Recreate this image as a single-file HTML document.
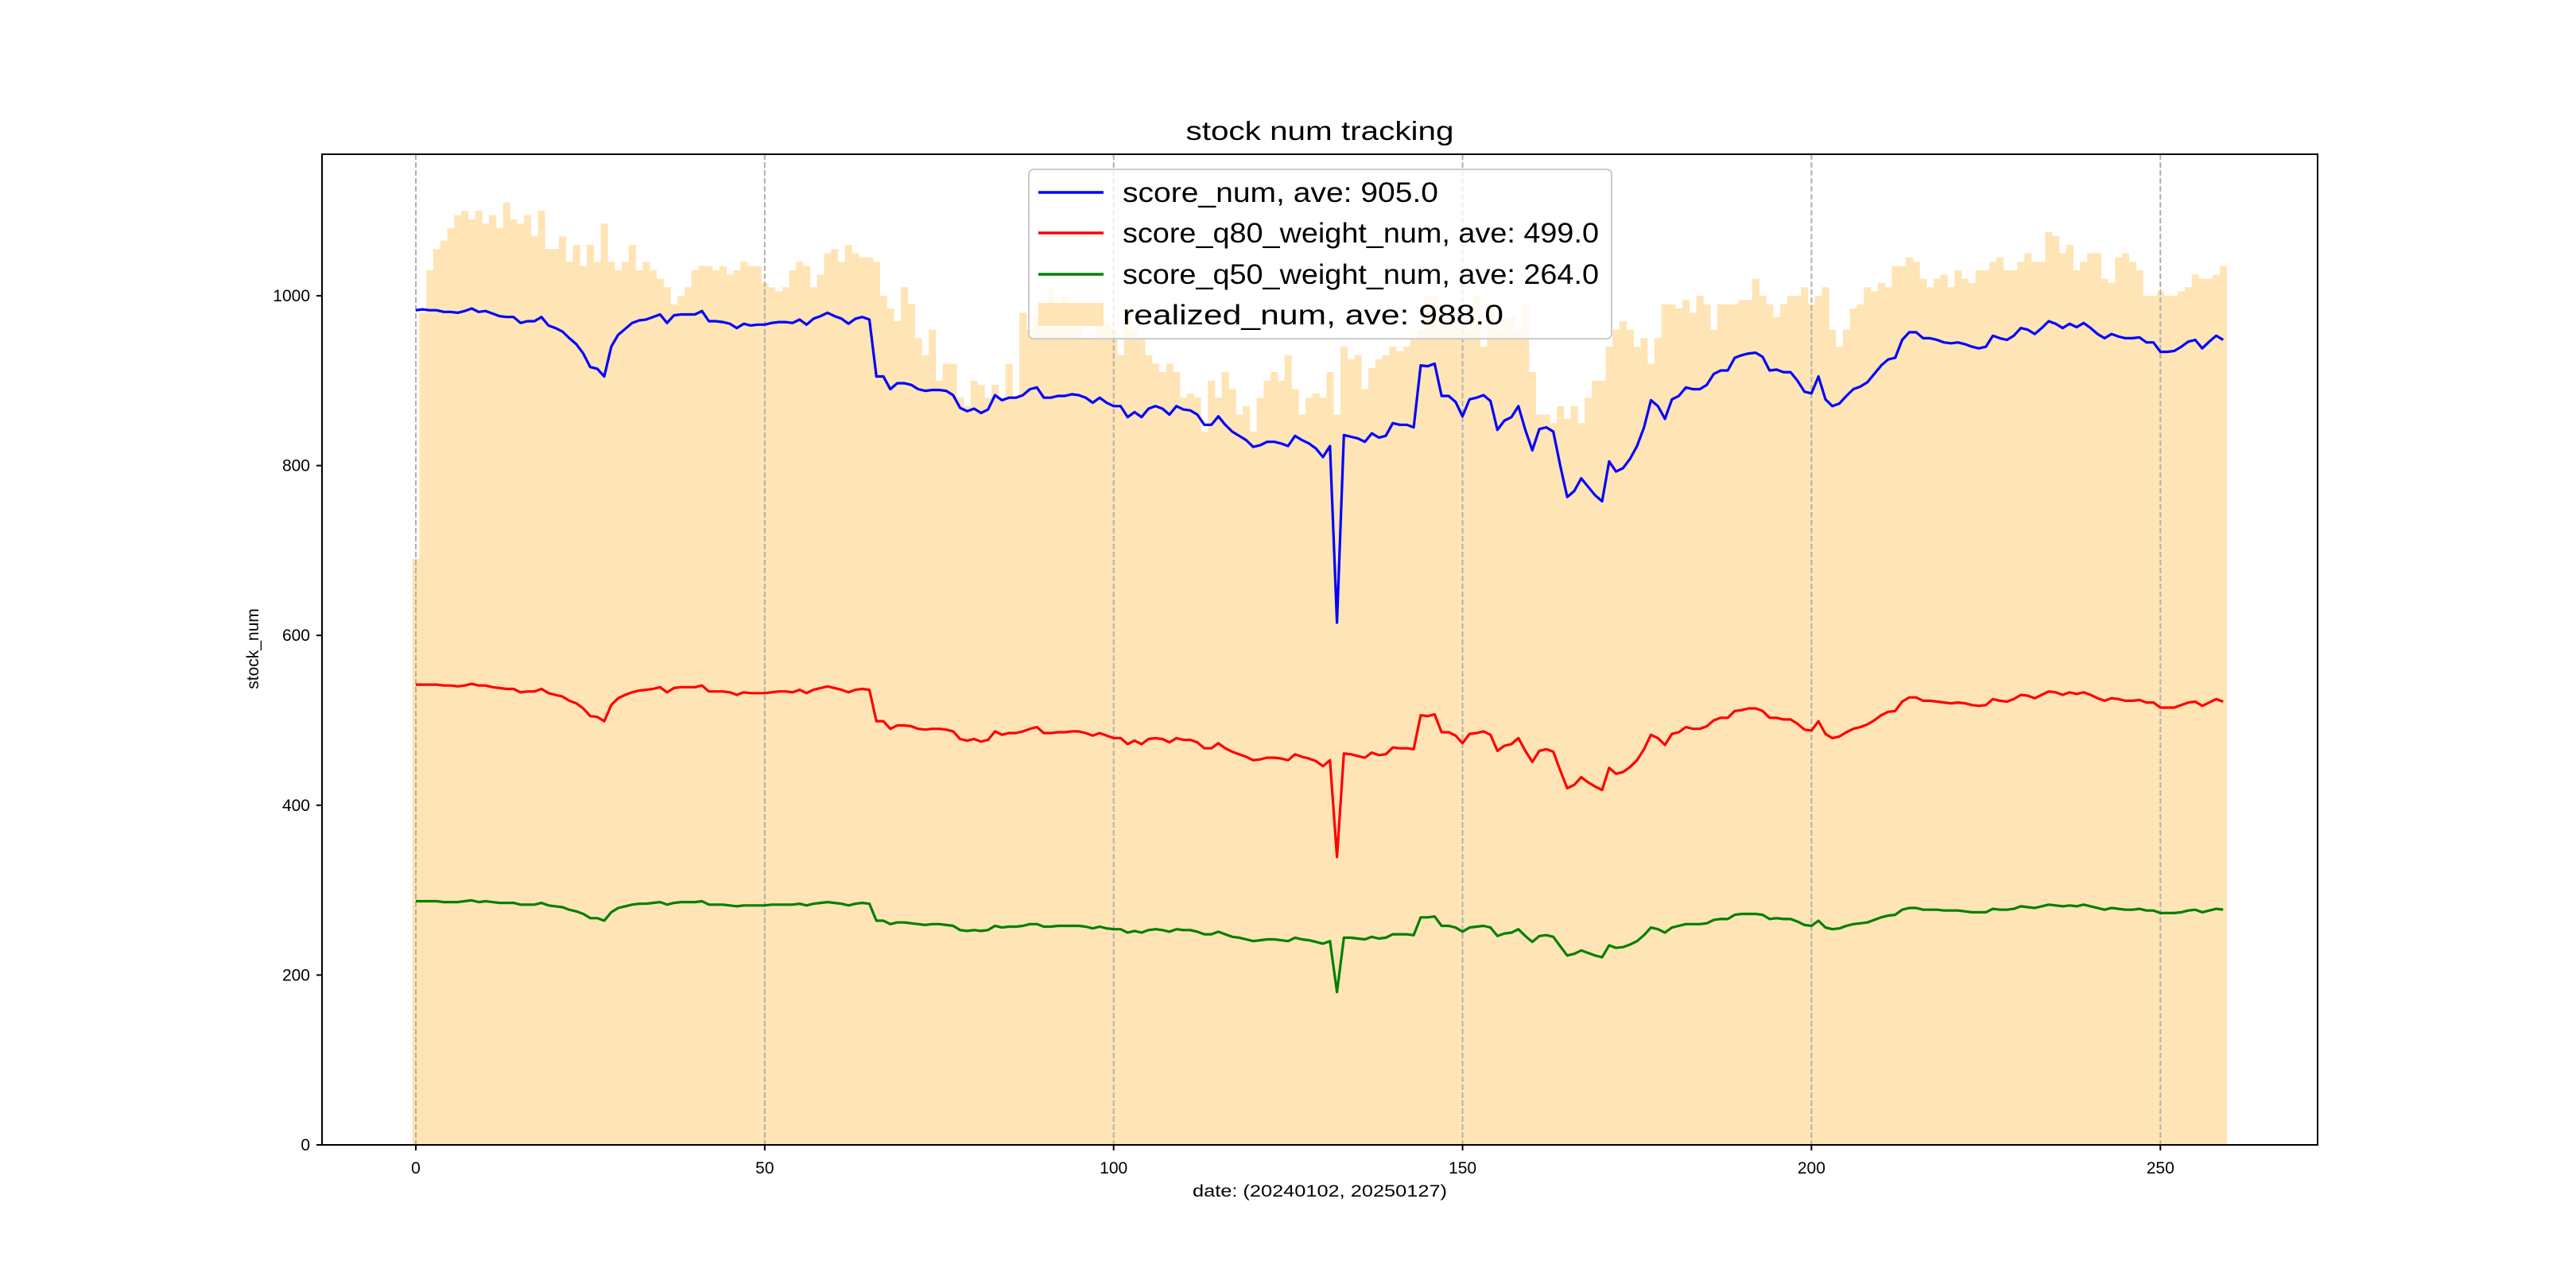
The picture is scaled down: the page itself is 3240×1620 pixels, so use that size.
<!DOCTYPE html>
<html><head><meta charset="utf-8"><style>
html,body{margin:0;padding:0;background:#fff;}
svg{display:block;font-family:"Liberation Sans","Noto Sans CJK SC",sans-serif;}
</style></head><body>
<svg id="chart" width="3240" height="1620" viewBox="0 0 3240 1620">
<rect x="0" y="0" width="3240" height="1620" fill="#fff"/>
<text x="1660" y="176" text-anchor="middle" font-size="33" textLength="337" lengthAdjust="spacingAndGlyphs">stock num tracking</text>
<g id="bars"></g>
<g id="grid"></g>
<g id="lines"></g>
<rect x="405" y="194" width="2510" height="1246" fill="none" stroke="#000" stroke-width="2"/>
<g id="xticks"></g>
<g id="yticks"></g>
<text x="1660" y="1505" text-anchor="middle" font-size="21" textLength="320" lengthAdjust="spacingAndGlyphs">date: (20240102, 20250127)</text>
<text transform="translate(325,816) rotate(-90)" text-anchor="middle" font-size="21">stock_num</text>
<g>
<rect x="1294" y="213" width="733" height="213" rx="6" fill="#fff" fill-opacity="0.8" stroke="#ccc" stroke-width="2"/>
<line x1="1306" y1="242" x2="1388" y2="242" stroke="#0000ff" stroke-width="3.5"/>
<text x="1412" y="254" font-size="35" textLength="397" lengthAdjust="spacingAndGlyphs">score_num, ave: 905.0</text>
<line x1="1306" y1="293" x2="1388" y2="293" stroke="#ff0000" stroke-width="3.5"/>
<text x="1412" y="305" font-size="35" textLength="599" lengthAdjust="spacingAndGlyphs">score_q80_weight_num, ave: 499.0</text>
<line x1="1306" y1="345" x2="1388" y2="345" stroke="#008000" stroke-width="3.5"/>
<text x="1412" y="357" font-size="35" textLength="599" lengthAdjust="spacingAndGlyphs">score_q50_weight_num, ave: 264.0</text>
<rect x="1306" y="381" width="82" height="29" fill="#ffe4b5"/>
<text x="1412" y="408" font-size="35" textLength="479" lengthAdjust="spacingAndGlyphs">realized_num, ave: 988.0</text>
</g>
</svg>
<script>
const realized=[690,980,1030,1055,1065,1080,1095,1100,1090,1100,1085,1095,1080,1110,1090,1085,1095,1070,1100,1055,1055,1070,1040,1060,1035,1060,1040,1085,1040,1030,1040,1060,1030,1040,1030,1020,1010,990,1000,1010,1030,1035,1035,1030,1035,1025,1030,1040,1035,1035,1015,1010,1005,1010,1030,1040,1035,1010,1025,1050,1055,1040,1060,1050,1045,1045,1040,1000,985,970,1010,990,950,930,960,900,920,920,880,870,900,895,880,895,880,920,880,980,960,975,970,1010,990,1000,990,970,950,950,965,970,960,930,985,960,950,930,920,910,920,910,880,885,880,840,900,880,910,890,860,870,840,880,900,910,900,930,890,860,880,885,880,910,860,940,925,930,890,915,925,930,940,935,940,950,960,1000,1000,970,980,970,975,960,1000,940,990,960,975,975,960,990,910,860,860,850,870,855,870,850,880,900,900,940,960,970,960,940,950,920,950,990,990,985,995,980,1000,990,960,990,990,990,995,995,1020,1000,990,975,990,1000,1000,1010,990,1000,1010,960,940,960,985,990,1010,1005,1015,1010,1035,1035,1045,1040,1020,1010,1020,1025,1010,1030,1020,1015,1030,1030,1040,1045,1030,1030,1040,1050,1040,1040,1075,1070,1050,1060,1030,1040,1050,1050,1020,1015,1045,1050,1040,1030,1000,1000,1005,1000,1000,1005,1010,1025,1020,1020,1025,1035];
const scoreNum=[983,984,983,983,981,981,980,982,985,981,982,979,976,975,975,968,970,970,975,965,962,958,950,943,932,916,914,905,940,954,961,968,971,972,975,978,968,977,978,978,978,982,970,970,969,967,962,967,965,966,966,968,969,969,968,972,966,973,976,980,976,973,967,973,975,972,905,905,890,897,897,895,890,888,889,889,888,883,868,864,867,862,866,883,877,880,880,883,890,892,880,880,882,882,884,883,880,874,880,874,870,870,857,863,857,867,870,867,860,870,866,865,860,848,848,858,848,840,835,830,822,824,828,828,826,823,835,830,826,820,810,823,615,836,834,832,828,838,833,835,850,848,848,845,918,917,920,882,882,875,858,878,880,883,876,842,853,857,870,842,818,843,845,840,800,763,770,785,775,765,758,805,793,797,808,823,845,877,870,855,878,882,892,890,890,895,908,912,912,927,930,932,933,928,912,913,910,910,900,887,885,905,878,870,873,882,890,893,898,908,918,925,927,948,957,957,950,950,948,945,944,945,943,940,938,940,953,950,948,953,962,960,955,962,970,967,962,967,963,968,962,955,950,955,952,950,950,951,945,945,934,934,935,940,946,948,938,946,953,948];
const q80Num=[542,542,542,542,541,541,540,541,543,541,541,539,538,537,537,533,534,534,537,532,530,528,523,520,514,505,504,499,518,526,530,533,535,536,537,539,533,538,539,539,539,541,534,534,534,533,530,533,532,532,532,533,534,534,533,536,532,536,538,540,538,536,533,536,537,536,499,499,490,494,494,493,490,489,490,490,489,487,478,476,478,475,477,487,483,485,485,487,490,492,485,485,486,486,487,487,485,482,485,482,479,479,472,476,472,478,479,478,474,479,477,477,474,467,467,473,467,463,460,457,453,454,456,456,455,453,460,457,455,452,446,453,339,461,460,458,456,462,459,460,468,467,467,466,506,505,507,486,486,482,473,484,485,487,483,464,470,472,479,464,451,464,466,463,441,420,424,433,427,422,418,444,437,439,445,453,466,483,479,471,484,486,492,490,490,493,500,503,503,511,512,514,514,511,503,503,501,501,496,489,488,499,484,479,481,486,490,492,495,500,506,510,511,522,527,527,523,523,522,521,520,521,520,518,517,518,525,523,522,525,530,529,526,530,534,533,530,533,531,533,530,526,523,526,525,523,523,524,521,521,515,515,515,518,521,522,517,521,525,522];
const q50Num=[287,287,287,287,286,286,286,287,288,286,287,286,285,285,285,283,283,283,285,282,281,280,277,275,272,267,267,264,274,279,281,283,284,284,285,286,283,285,286,286,286,287,283,283,283,282,281,282,282,282,282,283,283,283,283,284,282,284,285,286,285,284,282,284,285,284,264,264,260,262,262,261,260,259,260,260,259,258,253,252,253,252,253,258,256,257,257,258,260,260,257,257,258,258,258,258,257,255,257,255,254,254,250,252,250,253,254,253,251,254,253,253,251,248,248,251,248,245,244,242,240,241,242,242,241,240,244,242,241,239,237,240,180,244,244,243,242,245,243,244,248,248,248,247,268,268,269,258,258,256,251,256,257,258,256,246,249,250,254,246,239,246,247,245,234,223,225,229,226,223,221,235,232,233,236,240,247,256,254,250,256,258,260,260,260,261,265,266,266,271,272,272,272,271,266,267,266,266,263,259,258,264,256,254,255,258,260,261,262,265,268,270,271,277,279,279,277,277,277,276,276,276,275,274,274,274,278,277,277,278,281,280,279,281,283,282,281,282,281,283,281,279,277,279,278,277,277,278,276,276,273,273,273,274,276,277,274,276,278,277];
const xTicks=[0,50,100,150,200,250];
const yTicks=[0,200,400,600,800,1000];

const NS='http://www.w3.org/2000/svg';
const X0=523, XU=8.777, Y0=1440, YU=1.068;
function xs(i){return X0+i*XU;}
function ys(v){return Y0-v*YU;}
function mk(tag,attrs,parent){const e=document.createElementNS(NS,tag);for(const k in attrs)e.setAttribute(k,attrs[k]);parent.appendChild(e);return e;}

const gb=document.getElementById('bars');
realized.forEach((v,i)=>{
  const r=mk('rect',{x:xs(i)-XU/2,y:ys(v),width:XU+0.3,height:v*YU,fill:'#ffe4b5'},gb);
  
  
});
const gg=document.getElementById('grid');
const gx=document.getElementById('xticks');
xTicks.forEach(t=>{
  const l=mk('line',{x1:xs(t),y1:194,x2:xs(t),y2:1440,stroke:'#b0b0b0','stroke-width':2,'stroke-dasharray':'7,3'},gg);
  
  
  const tk=mk('line',{x1:xs(t),y1:1440,x2:xs(t),y2:1447,stroke:'#000','stroke-width':2},gx);
  
  
  const tx=mk('text',{x:xs(t),y:1476,'text-anchor':'middle','font-size':21},gx);
  tx.textContent=t;
  
  
});
const gy=document.getElementById('yticks');
yTicks.forEach(t=>{
  const tk=mk('line',{x1:398,y1:ys(t),x2:405,y2:ys(t),stroke:'#000','stroke-width':2},gy);
  
  
  const tx=mk('text',{x:390,y:ys(t)+7,'text-anchor':'end','font-size':21},gy);
  tx.textContent=t;
  
  
});
const gl=document.getElementById('lines');
[[scoreNum,'#0000ff','score-num-line'],[q80Num,'#ff0000','q80-line'],[q50Num,'#008000','q50-line']].forEach(([arr,c,n])=>{
  const p=mk('polyline',{points:arr.map((v,i)=>xs(i).toFixed(1)+','+ys(v).toFixed(1)).join(' '),fill:'none',stroke:c,'stroke-width':3.2,'stroke-linejoin':'round'},gl);
  
  
});
</script>
</body></html>
